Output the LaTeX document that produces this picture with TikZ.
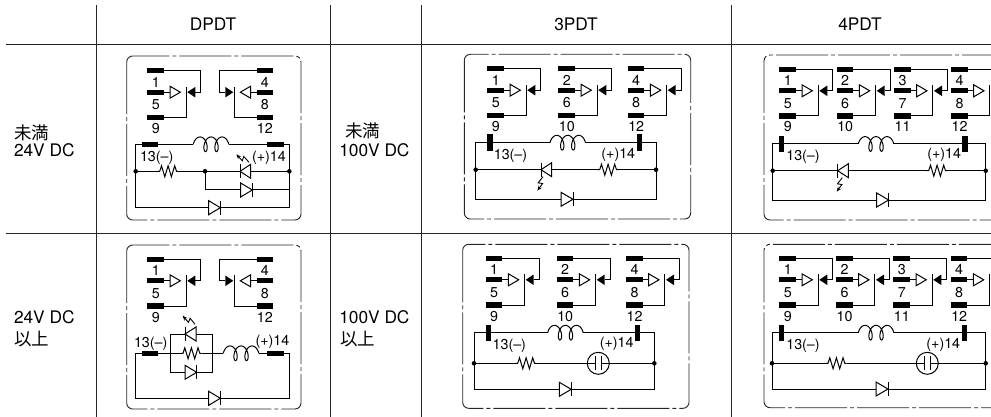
\documentclass[tikz,border=0pt]{standalone}
\usepackage{fontspec}
\setmainfont{TeX Gyre Heros}
\newfontfamily\cjk{Noto Sans CJK JP}
\usetikzlibrary{arrows.meta}
\tikzset{
  wire/.style={line width=1pt,line join=miter,draw=black},
  rule/.style={line width=1pt,draw=black!85},
  frame/.style={line width=0.9pt,draw=black!85,rounded corners=6pt,dash pattern=on 52pt off 3pt on 4pt off 3pt},
  termh/.style={fill=black,inner sep=0pt,outer sep=0pt,minimum width=16.7pt,minimum height=5.3pt},
  termv/.style={fill=black,inner sep=0pt,outer sep=0pt,minimum width=5.5pt,minimum height=16.4pt},
  jdot/.style={circle,fill=black,inner sep=0pt,outer sep=0pt,minimum size=4.6pt},
  lbl/.style={inner sep=0pt,outer sep=0pt,font=\fontsize{14.3pt}{15pt}\selectfont,text height=10.2pt,text depth=0pt},
  head/.style={inner sep=0pt,outer sep=0pt,font=\fontsize{17.3pt}{18pt}\selectfont,text height=12.4pt,text depth=0pt},
  headl/.style={head,anchor=west},
  cjkl/.style={inner sep=0pt,outer sep=0pt,anchor=west,font=\cjk\fontsize{17.5pt}{18pt}\selectfont}
}
% prefix, x, y, direction, three labels
\newcommand{\polegroup}[7]{%
  \begin{scope}[shift={(#2,#3)},xscale=#4]
    \node[termh] (#1a) at (8.35,0) {};
    \node[termh] (#1b) at (8.35,21.5) {};
    \node[termh] (#1c) at (8.35,46.7) {};
    \coordinate (#1w) at (22.7,21.5);
    \coordinate (#1k) at (48,21.5);
    \coordinate (#1m) at (38.7,16);
    \fill (40,21.5) -- (48,16.2) -- (48,26.8) -- cycle;
    \draw[wire] (#1a.center) -| (53.5,21.5) -- (#1k);
    \draw[wire] (#1b.center) -- (#1w);
    \draw[wire,fill=white] (22.7,15.5) -- (33,21.5) -- (22.7,27.5) -- cycle;
    \draw[wire] (#1c.center) -| (#1m);
    \node[lbl] (#1la) at (8.5,11.5) {#5};
    \node[lbl] (#1lb) at (8.5,34) {#6};
    \node[lbl] (#1lc) at (8.5,57.6) {#7};
  \end{scope}}
\newcommand{\coil}[3]{%
  \coordinate (#1-l) at (#2,#3);
  \coordinate (#1-r) at ({#2+35.5},#3);
  \draw[wire] plot[domain=-90:810,samples=91,variable=\myt]
    ({#2+6.75+1.75*rad(\myt)+4*sin(\myt)},{#3-7.35*cos(\myt)});}
\newcommand{\diode}[4]{%
  \coordinate (#1-b) at (#2,#4);
  \coordinate (#1-t) at (#3,#4);
  \draw[wire,fill=white] (#2,{#4-7}) -- (#3,#4) -- (#2,{#4+7}) -- cycle;
  \draw[wire] (#3,{#4-7}) -- (#3,{#4+7});}
\newcommand{\resist}[3]{%
  \begin{scope}[shift={(#2,#3)}]
    \coordinate (#1-l) at (0,0);
    \coordinate (#1-r) at (20.6,0);
    \draw[wire] (0,0) -- (2,0) -- (3.8,-5.5) -- (7.1,5.5) -- (10.4,-5.5) -- (13.7,5.5) -- (17,-5.5) -- (18.8,0) -- (20.6,0);
  \end{scope}}
\newcommand{\flash}[3]{%
  \begin{scope}[shift={(#1,#2)},rotate=#3]
    \draw[line width=0.9pt,-{Stealth[length=5pt,width=4pt]}] (0,0) -- (7.5,2.2) -- (6.5,-2.2) -- (15,0);
  \end{scope}}
% prefix, xL, xR, yWire, xBarL, xBarR, xCoil, yBottom, xDiodeBase
\newcommand{\vcircuit}[9]{%
  \node[termv] (#1-tl) at (#5,#4) {};
  \node[termv] (#1-tr) at (#6,#4) {};
  \coil{#1-c}{#7}{#4}
  \diode{#1-d}{#9}{#9+12}{#8}
  \draw[wire] (#1-tl.center) -- (#1-c-l);
  \draw[wire] (#1-c-r) -- (#1-tr.center);
  \draw[wire] (#1-tl.center) -- (#2,#4) -- (#2,#8) -- (#1-d-b);
  \draw[wire] (#1-d-t) -- (#3,#8) -- (#3,#4) -- (#1-tr.center);}
% prefix, xL, xR, yJ, ledTip, xRes, flash x, flash y
\newcommand{\ledrow}[8]{%
  \node[jdot] (#1-jl) at (#2,#4) {};
  \node[jdot] (#1-jr) at (#3,#4) {};
  \diode{#1-led}{#5+10.7}{#5}{#4}
  \resist{#1-res}{#6}{#4}
  \flash{#7}{#8}{248}
  \draw[wire] (#1-jl.center) -- (#1-led-t);
  \draw[wire] (#1-led-b) -- (#1-res-l);
  \draw[wire] (#1-res-r) -- (#1-jr.center);}
% prefix, xL, xR, yJ, xRes, xCap
\newcommand{\caprow}[6]{%
  \node[jdot] (#1-jl) at (#2,#4) {};
  \node[jdot] (#1-jr) at (#3,#4) {};
  \resist{#1-res}{#5}{#4}
  \node[circle,draw,line width=1pt,inner sep=0pt,minimum size=22pt] (#1-cap) at (#6,#4) {};
  \coordinate (#1-pl) at ({#6-2.8},#4);
  \coordinate (#1-pr) at ({#6+2.8},#4);
  \draw[wire] ({#6-2.8},{#4-7}) -- ({#6-2.8},{#4+7});
  \draw[wire] ({#6+2.8},{#4-7}) -- ({#6+2.8},{#4+7});
  \draw[wire] (#1-jl.center) -- (#1-res-l);
  \draw[wire] (#1-res-r) -- (#1-pl);
  \draw[wire] (#1-pr) -- (#1-jr.center);}
\begin{document}
\begin{tikzpicture}[x=1pt,y=-1pt]
\useasboundingbox (0,0) rectangle (991,417);
\clip (0,0) rectangle (991,417);
% table
\draw[rule] (6,44.5) -- (991,44.5);
\draw[rule] (6,233.5) -- (991,233.5);
\draw[rule] (96.5,5) -- (96.5,417);
\draw[rule] (330.5,5) -- (330.5,417);
\draw[rule] (421,5) -- (421,417);
\draw[rule] (731,5) -- (731,417);
% headings
\node[head] (h1) at (213,24.5) {DPDT};
\node[head] (h2) at (576,24.5) {3PDT};
\node[head] (h3) at (860,24.5) {4PDT};
\node[cjkl] (s1a) at (14,133.3) {未満};
\node[headl] (s1b) at (14,150.7) {24V DC};
\node[headl] (s2a) at (14,317.7) {24V DC};
\node[cjkl] (s2b) at (14,339.3) {以上};
\node[cjkl] (s3a) at (345,130.7) {未満};
\node[headl] (s3b) at (339.3,150.7) {100V DC};
\node[headl] (s4a) at (339.3,317.7) {100V DC};
\node[cjkl] (s4b) at (340,339.3) {以上};
% frames
\draw[frame] (126.7,56) rectangle (301,220);
\draw[frame] (126.7,245) rectangle (301,409);
\draw[frame] (464.3,54.3) rectangle (690.7,219);
\draw[frame] (462.7,244.3) rectangle (689,408.3);
\draw[frame] (764,55) rectangle (1010,220);
\draw[frame] (764,244.3) rectangle (1010,407.7);
% ---- DPDT, upper
\polegroup{aa}{147.3}{70.7}{1}{1}{5}{9}
\polegroup{ab}{273.3}{70.7}{-1}{4}{8}{12}
\node[termh] (a13) at (150,144.3) {};
\node[termh] (a14) at (275.3,144.3) {};
\coil{ac}{193.3}{144.3}
\node[jdot] (aj1) at (135.7,171.3) {};
\node[jdot] (aj2) at (205,171.3) {};
\node[jdot] (aj3) at (289.3,171.3) {};
\resist{ar}{157.7}{171.3}
\diode{al}{250.7}{240}{171.3}
\diode{ad}{240.7}{252.3}{190}
\diode{ae}{208.7}{220.3}{207.7}
\flash{249}{162.3}{148}
\draw[wire] (a13.center) -- (ac-l);
\draw[wire] (ac-r) -- (a14.center);
\draw[wire] (a13.center) -- (135.7,144.3) -- (135.7,207.7) -- (ae-b);
\draw[wire] (ae-t) -- (289.3,207.7) -- (289.3,144.3) -- (a14.center);
\draw[wire] (aj1.center) -- (ar-l);
\draw[wire] (ar-r) -- (aj2.center);
\draw[wire] (aj2.center) -- (al-t);
\draw[wire] (al-b) -- (aj3.center);
\draw[wire] (aj2.center) |- (ad-b);
\draw[wire] (ad-t) -- (289.3,190);
\node[lbl] (a13t) at (156.7,156) {13(--)};
\node[lbl] (a14t) at (269,156) {(+)14};
% ---- DPDT, lower
\polegroup{ba}{147.3}{259.3}{1}{1}{5}{9}
\polegroup{bb}{273.3}{259.3}{-1}{4}{8}{12}
\node[termh] (b13) at (150,353.3) {};
\node[termh] (b14) at (275.3,353.3) {};
\coordinate (bpl) at (170,353.3);
\coordinate (bpr) at (212.3,353.3);
\resist{br}{181}{353.3}
\coil{bc}{223.3}{353.3}
\diode{bl}{196}{185}{334}
\diode{bd}{185}{196.7}{372.3}
\diode{be}{208.7}{220.3}{398.3}
\flash{195}{324.3}{145}
\draw[wire] (b13.center) -- (bpl) -- (br-l);
\draw[wire] (br-r) -- (bpr) -- (bc-l);
\draw[wire] (bc-r) -- (b14.center);
\draw[wire] (bpl) |- (bl-t);
\draw[wire] (bl-b) -| (bpr);
\draw[wire] (bpl) |- (bd-b);
\draw[wire] (bd-t) -| (bpr);
\draw[wire] (b13.center) -- (135.7,353.3) -- (135.7,398.3) -- (be-b);
\draw[wire] (be-t) -- (289.3,398.3) -- (289.3,353.3) -- (b14.center);
\node[lbl] (b13t) at (150.7,342.3) {13(--)};
\node[lbl] (b14t) at (272.5,340) {(+)14};
% ---- 3PDT, upper
\polegroup{ca}{487.3}{68.7}{1}{1}{5}{9}
\polegroup{cb}{558.3}{68.7}{1}{2}{6}{10}
\polegroup{cc}{627.7}{68.7}{1}{4}{8}{12}
\vcircuit{c}{475.7}{656}{142.7}{490}{639.3}{550}{199.3}{561}
\ledrow{c}{475.7}{656}{169.7}{541}{597.7}{543}{176.7}
\node[lbl] (c13t) at (510.5,154.3) {13(--)};
\node[lbl] (c14t) at (618.3,153) {(+)14};
% ---- 3PDT, lower
\polegroup{da}{485.7}{258.3}{1}{1}{5}{9}
\polegroup{db}{556.7}{258.3}{1}{2}{6}{10}
\polegroup{dc}{626}{258.3}{1}{4}{8}{12}
\vcircuit{d}{474}{654.3}{332.7}{488.3}{637.7}{547.7}{389.3}{559.3}
\caprow{d}{474}{654.3}{363.3}{515.7}{598.3}
\node[lbl] (d13t) at (509.3,344.3) {13(--)};
\node[lbl] (d14t) at (616.7,342.7) {(+)14};
% ---- 4PDT, upper
\polegroup{ea}{779.3}{69.3}{1}{1}{5}{9}
\polegroup{eb}{836.7}{69.3}{1}{2}{6}{10}
\polegroup{ec}{894}{69.3}{1}{3}{7}{11}
\polegroup{ed}{951}{69.3}{1}{4}{8}{12}
\vcircuit{e}{772.7}{985.7}{144}{781.7}{965}{858.3}{200}{876.7}
\ledrow{e}{772.7}{985.7}{170.7}{837.7}{926.7}{842.3}{177.7}
\node[lbl] (e13t) at (803,155) {13(--)};
\node[lbl] (e14t) at (944.2,153.3) {(+)14};
% ---- 4PDT, lower
\polegroup{fa}{779.3}{258.3}{1}{1}{5}{9}
\polegroup{fb}{836}{258.3}{1}{2}{6}{10}
\polegroup{fc}{893.3}{258.3}{1}{3}{7}{11}
\polegroup{fd}{950.7}{258.3}{1}{4}{8}{12}
\vcircuit{f}{772}{985.7}{332.7}{781.7}{964.3}{858.3}{389}{876}
\caprow{f}{772}{985.7}{363.3}{826}{927.3}
\node[lbl] (f13t) at (803,344.3) {13(--)};
\node[lbl] (f14t) at (943.3,343.3) {(+)14};
\end{tikzpicture}
\end{document}
